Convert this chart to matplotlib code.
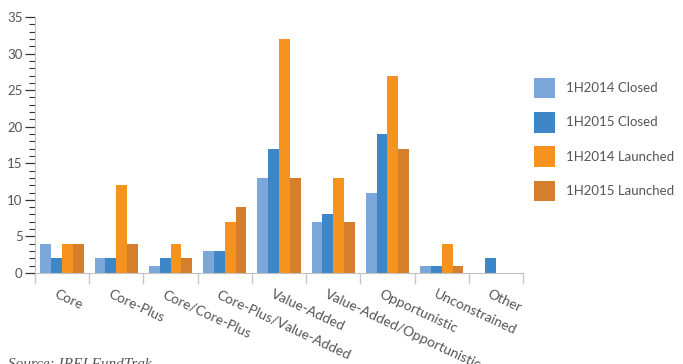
import numpy as np
import matplotlib
matplotlib.use("Agg")
import matplotlib.pyplot as plt
import matplotlib.transforms as mtransforms
from matplotlib.ticker import MultipleLocator

categories = ["Core", "Core-Plus", "Core/Core-Plus", "Core-Plus/Value-Added",
              "Value-Added", "Value-Added/Opportunistic", "Opportunistic",
              "Unconstrained", "Other"]
series_names = ["1H2014 Closed", "1H2015 Closed", "1H2014 Launched", "1H2015 Launched"]
closed_2014 = [4, 2, 1, 3, 13, 7, 11, 1, 0]
closed_2015 = [2, 2, 2, 3, 17, 8, 19, 1, 2]
launched_2014 = [4, 12, 4, 7, 32, 13, 27, 4, 0]
launched_2015 = [4, 4, 2, 9, 13, 7, 17, 1, 0]
colors = ["#7ba7da", "#3d87c9", "#f6921e", "#d57e2c"]

plt.rcParams["font.family"] = ["Lato", "DejaVu Sans"]

fig = plt.figure(figsize=(6.83, 3.64), dpi=100)
ax = fig.add_axes([35 / 683, 91 / 364, 488 / 683, 256 / 364])

x = np.arange(len(categories))
w = 0.2
for i, (vals, name) in enumerate(zip([closed_2014, closed_2015, launched_2014, launched_2015], series_names)):
    ax.bar(x + (i - 1.5) * w, vals, w, color=colors[i], label=name, linewidth=0)

ax.set_xlim(-0.5, len(categories) - 0.5)
ax.set_ylim(0, 35)
ax.yaxis.set_major_locator(MultipleLocator(5))
ax.yaxis.set_minor_locator(MultipleLocator(1))

for s in ["top", "right"]:
    ax.spines[s].set_visible(False)
ax.spines["left"].set_color("#c0c0c0")
ax.spines["bottom"].set_color("#c0c0c0")
ax.tick_params(axis="y", which="major", length=7, width=0.9, color="#333333",
               labelsize=9.5, labelcolor="#555555", pad=2)
ax.tick_params(axis="y", which="minor", length=4, width=0.8, color="#333333")

# category boundaries as ticks, labels on minor ticks at centres
ax.set_xticks(np.arange(len(categories) + 1) - 0.5)
ax.set_xticklabels([])
ax.tick_params(axis="x", which="major", length=8, width=1, color="#c8c8c8")
ax.set_xticks(x, minor=True)
ax.set_xticklabels(categories, minor=True, rotation=-25, ha="left",
                   rotation_mode="anchor", fontsize=10, color="#555555")
ax.tick_params(axis="x", which="minor", length=0, pad=11)
shift = mtransforms.ScaledTranslation(-5 / 100, 0, fig.dpi_scale_trans)
for lab in ax.get_xticklabels(minor=True):
    lab.set_transform(lab.get_transform() + shift)

fig.legend(loc="upper left", bbox_to_anchor=(522 / 683, 1 - 66 / 364), frameon=False,
           fontsize=9.5, handlelength=1.6, handleheight=2.0, labelspacing=1.05,
           handletextpad=0.8, labelcolor="#555555")

fig.text(8 / 683, -4 / 364, "Source: IREI FundTrak", fontsize=11, style="italic",
         family="Liberation Serif", color="#555555")

fig.savefig("out.png", dpi=100)
